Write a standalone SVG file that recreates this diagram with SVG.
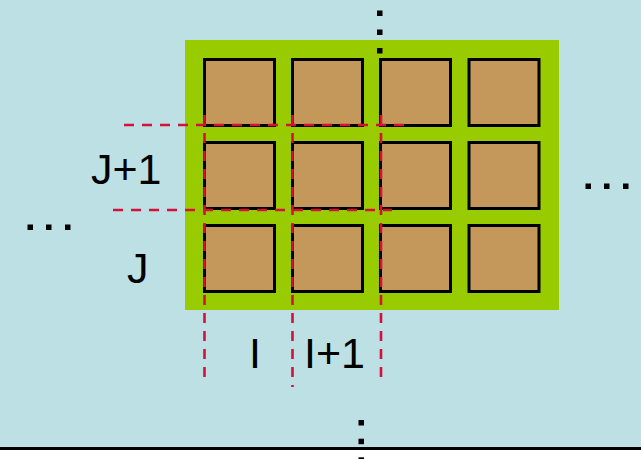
<svg xmlns="http://www.w3.org/2000/svg" width="641" height="459" viewBox="0 0 641 459">
<defs>
<style>
.cell{fill:#C4975A;stroke:#000;stroke-width:3}
.grid{stroke:#D5103A;stroke-width:2.6;stroke-dasharray:10,8;fill:none}
.dot{fill:#000}
.lbl{font-family:"Liberation Sans",Arial,sans-serif;font-size:43px;fill:#000}
</style>
</defs>
<rect x="0" y="0" width="641" height="459" fill="#fff"/>
<rect x="0" y="0" width="641" height="448" fill="#BCE0E3"/>
<rect x="0" y="447" width="641" height="3" fill="#000"/>
<g id="board">
<rect x="185" y="40" width="374" height="270" fill="#99CC00"/>
</g>
<g id="cells">
<rect class="cell" x="204.5" y="59.5" width="70" height="66"/>
<rect class="cell" x="292.5" y="59.5" width="70" height="66"/>
<rect class="cell" x="380.5" y="59.5" width="70" height="66"/>
<rect class="cell" x="469" y="59.5" width="70" height="66"/>
<rect class="cell" x="204.5" y="142.5" width="70" height="66"/>
<rect class="cell" x="292.5" y="142.5" width="70" height="66"/>
<rect class="cell" x="380.5" y="142.5" width="70" height="66"/>
<rect class="cell" x="469" y="142.5" width="70" height="66"/>
<rect class="cell" x="204.5" y="225.5" width="70" height="66"/>
<rect class="cell" x="292.5" y="225.5" width="70" height="66"/>
<rect class="cell" x="380.5" y="225.5" width="70" height="66"/>
<rect class="cell" x="469" y="225.5" width="70" height="66"/>
</g>
<g id="connectors">
<line class="grid" x1="122" y1="125" x2="407" y2="125" stroke-dashoffset="16"/>
<line class="grid" x1="111" y1="210" x2="392" y2="210" stroke-dashoffset="16"/>
<line class="grid" x1="204.5" y1="115" x2="204.5" y2="382"/>
<line class="grid" x1="292.5" y1="115" x2="292.5" y2="387"/>
<line class="grid" x1="381" y1="115" x2="381" y2="383"/>
</g>
<g id="dots">
<rect class="dot" x="377" y="10.5" width="5.5" height="5.5"/>
<rect class="dot" x="377" y="29.5" width="5.5" height="5.5"/>
<rect class="dot" x="377" y="48" width="5.5" height="5.5"/>
<rect class="dot" x="358.5" y="420" width="5.5" height="5.5"/>
<rect class="dot" x="358.5" y="438.7" width="5.5" height="5.5"/>
<rect class="dot" x="358.5" y="457.3" width="5.5" height="5.5"/>
<rect class="dot" x="585.5" y="183.5" width="5.5" height="5.5"/>
<rect class="dot" x="604" y="183.5" width="5.5" height="5.5"/>
<rect class="dot" x="623" y="183.5" width="5.5" height="5.5"/>
<rect class="dot" x="27.5" y="224.5" width="5.5" height="5.5"/>
<rect class="dot" x="46" y="224.5" width="5.5" height="5.5"/>
<rect class="dot" x="65" y="224.5" width="5.5" height="5.5"/>
</g>
<g id="labels">
<text class="lbl" x="91" y="184">J+1</text>
<text class="lbl" x="127" y="283">J</text>
<text class="lbl" x="249" y="368">I</text>
<text class="lbl" x="304" y="368">I+1</text>
</g>
</svg>
